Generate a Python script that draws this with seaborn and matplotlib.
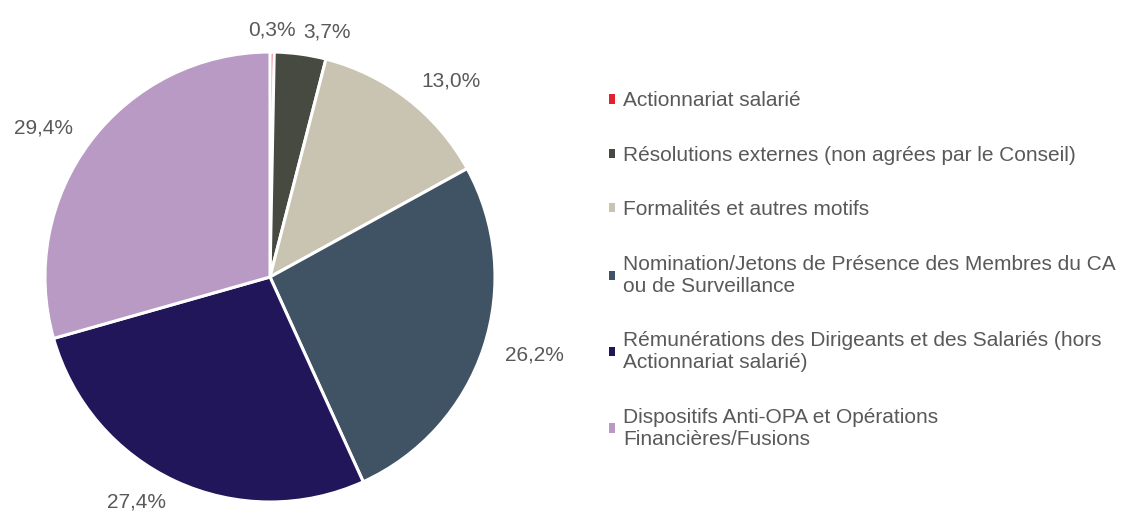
import matplotlib
matplotlib.use("Agg")
import matplotlib.pyplot as plt
import seaborn as sns

categories = [
    "Actionnariat salarié",
    "Résolutions externes (non agrées par le Conseil)",
    "Formalités et autres motifs",
    "Nomination/Jetons de Présence des Membres du CA\nou de Surveillance",
    "Rémunérations des Dirigeants et des Salariés (hors\nActionnariat salarié)",
    "Dispositifs Anti-OPA et Opérations\nFinancières/Fusions",
]
values = [0.3, 3.7, 13.0, 26.2, 27.4, 29.4]
value_labels = ["0,3%", "3,7%", "13,0%", "26,2%", "27,4%", "29,4%"]
colors = ["#E2202E", "#474A40", "#C9C3B1", "#405364", "#22165A", "#B89AC5"]

sns.set_theme(style="white")
plt.rcParams["font.family"] = ["Liberation Sans", "DejaVu Sans"]
text_color = "#595959"

fig = plt.figure(figsize=(11.26, 5.15), dpi=100)
ax = fig.add_axes([45 / 1126, 13 / 515, 450 / 1126, 450 / 515])

wedges, texts = ax.pie(
    values,
    labels=value_labels,
    colors=colors,
    startangle=90,
    counterclock=False,
    labeldistance=1.1,
    radius=1,
    wedgeprops=dict(edgecolor="white", linewidth=2.2),
    textprops=dict(fontsize=15, color=text_color),
)
# le petit label du haut est centré pour éviter le chevauchement
texts[0].set_ha("center")
ax.set_xlim(-1, 1)
ax.set_ylim(-1, 1)
ax.set_aspect("equal")

leg = fig.legend(
    wedges,
    categories,
    loc="center left",
    bbox_to_anchor=(609 / 1126, 1 - 270 / 515),
    frameon=False,
    fontsize=15,
    labelspacing=1.7,
    handlelength=0.3,
    handleheight=0.3,
    handletextpad=0.38,
    borderpad=0,
    borderaxespad=0,
)
for t in leg.get_texts():
    t.set_color(text_color)
for h in leg.legend_handles:
    h.set_edgecolor("none")

fig.savefig("out.png", dpi=100)
